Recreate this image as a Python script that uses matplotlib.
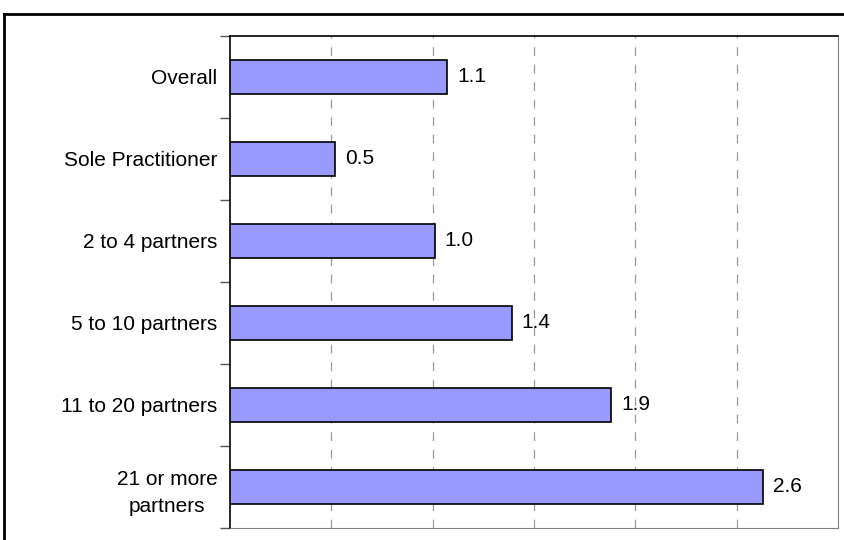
import matplotlib
matplotlib.use("Agg")
import matplotlib.pyplot as plt
from matplotlib.lines import Line2D

plt.rcParams['font.family'] = ['Liberation Sans', 'DejaVu Sans']

# data
categories = ["Overall", "Sole Practitioner", "2 to 4 partners",
              "5 to 10 partners", "11 to 20 partners", "21 or more\npartners"]
values = [1.07, 0.52, 1.01, 1.39, 1.88, 2.63]

fig = plt.figure(figsize=(8.45, 5.4), dpi=100)
ax = fig.add_axes([230/845, 1 - 528/540, 608/845, 492/540])

pos = [i + 0.5 for i in range(len(categories))]
ax.barh(pos, values, height=0.42, color='#9999FF', edgecolor='black', linewidth=1.2, zorder=3)

for p, v in zip(pos, values):
    ax.text(v + 0.05, p, f"{v:.1f}", va='center', ha='left', fontsize=15, zorder=4)

ax.set_xlim(0, 3)
ax.set_ylim(len(categories), 0)

# dashed gridlines
for gx in [0.5, 1.0, 1.5, 2.0, 2.5]:
    ax.axvline(gx, color='#999999', linestyle=(0, (7, 7)), linewidth=0.9, zorder=1)

ax.set_xticks([])
ax.set_yticks(range(len(categories) + 1))
ax.set_yticklabels([])
ax.set_yticks(pos, minor=True)
ax.set_yticklabels(categories, minor=True, fontsize=15, ha='right',
                   multialignment='center', linespacing=1.5)
ax.tick_params(axis='y', which='major', length=7, width=1, color='#555555', direction='out')
ax.tick_params(axis='y', which='minor', length=0, pad=9)

ax.spines['left'].set_color('black')
ax.spines['left'].set_linewidth(1.2)
ax.spines['top'].set_color('black')
ax.spines['top'].set_linewidth(1.2)
ax.spines['right'].set_color('#808080')
ax.spines['bottom'].set_color('#808080')

# outer chart frame (cut off at right and bottom)
fig.add_artist(Line2D([4/845, 4/845], [0, 1 - 14/540], color='black', linewidth=2, transform=fig.transFigure))
fig.add_artist(Line2D([4/845, 1], [1 - 14/540, 1 - 14/540], color='black', linewidth=2, transform=fig.transFigure))

fig.savefig("out.png", dpi=100)
